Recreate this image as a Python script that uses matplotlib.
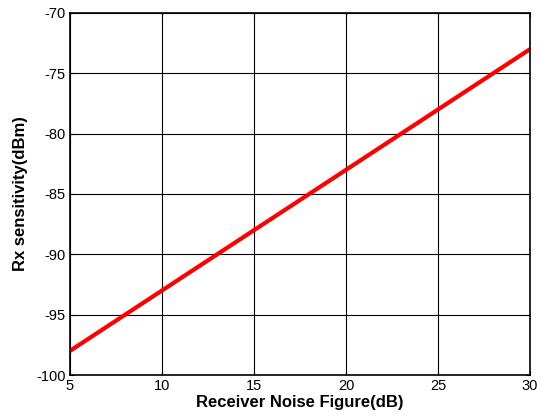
import matplotlib
matplotlib.use("Agg")
import matplotlib.pyplot as plt

plt.rcParams["font.family"] = ["Liberation Sans", "DejaVu Sans"]
plt.rcParams["axes.unicode_minus"] = False

noise_figure = [5, 10, 15, 20, 25, 30]
sensitivity = [-98, -93, -88, -83, -78, -73]
x_ticks = [5, 10, 15, 20, 25, 30]
y_ticks = [-100, -95, -90, -85, -80, -75, -70]

fig = plt.figure(figsize=(5.41, 4.19), dpi=100)
ax = fig.add_axes([0.1294, 0.105, 0.8503, 0.864])

ax.plot(noise_figure, sensitivity, color="#ff0000", linewidth=3.0, solid_capstyle="butt")

ax.set_xlim(5, 30)
ax.set_ylim(-100, -70)
ax.set_xticks(x_ticks)
ax.set_yticks(y_ticks)
ax.grid(True, color="black", linewidth=0.8, linestyle="-")
ax.set_axisbelow(True)

ax.tick_params(direction="in", length=3, width=0.8, labelsize=10.5, top=True, right=True, pad=3)
for side in ax.spines.values():
    side.set_linewidth(1.2)

ax.set_xlabel("Receiver Noise Figure(dB)", fontsize=12, fontweight="bold", labelpad=1)
ax.set_ylabel("Rx sensitivity(dBm)", fontsize=12, fontweight="bold", labelpad=6)

fig.savefig("out.png", dpi=100)
